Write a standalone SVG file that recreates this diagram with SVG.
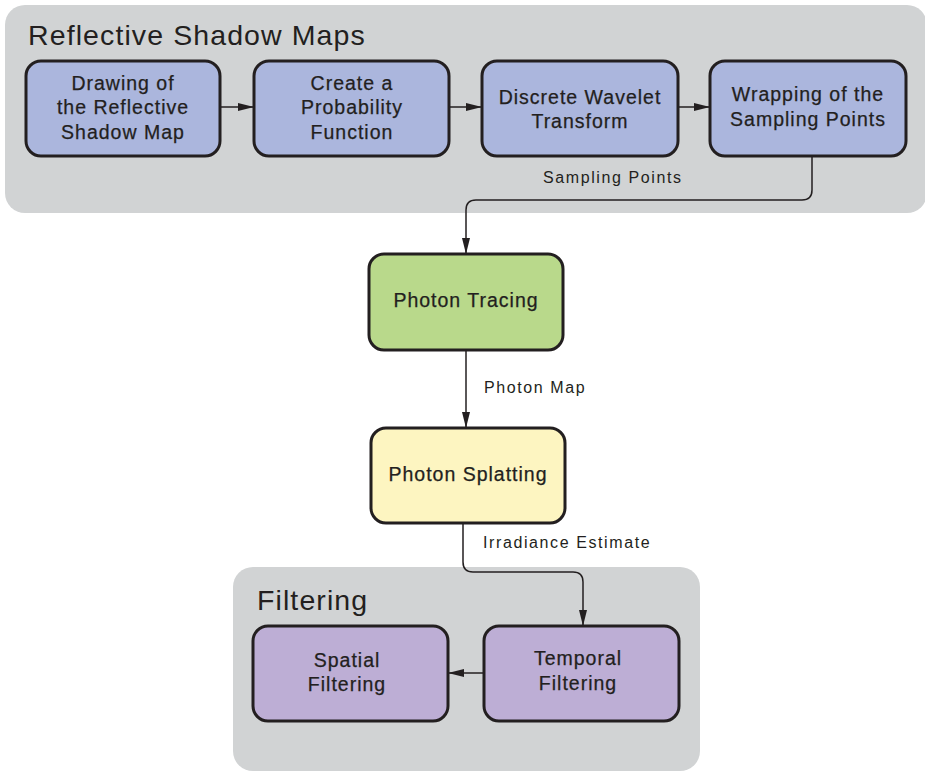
<svg xmlns="http://www.w3.org/2000/svg" width="925" height="773" viewBox="0 0 925 773">
<defs>
<marker id="ah" viewBox="0 0 16 10" refX="16" refY="5" markerWidth="16" markerHeight="10" markerUnits="userSpaceOnUse" orient="auto">
<path d="M0,1 L16,5 L0,9 Z" fill="#231f20"/>
</marker>
<style>
.grp{fill:#d1d3d4}
.title{font-family:"Liberation Sans",Arial,sans-serif;font-size:28.5px;fill:#231f20;letter-spacing:1.1px}
.box{stroke:#231f20;stroke-width:3}
.blue{fill:#abb6dd}
.green{fill:#b9d98b}
.yellow{fill:#fdf5c1}
.purple{fill:#bdaed5}
.t{font-family:"Liberation Sans",Arial,sans-serif;font-size:19.5px;fill:#231f20;text-anchor:middle;letter-spacing:1px;stroke:#231f20;stroke-width:0.25}
.lbl{font-family:"Liberation Sans",Arial,sans-serif;font-size:16px;fill:#231f20;letter-spacing:1.6px}
.conn{fill:none;stroke:#231f20;stroke-width:1.5}
</style>
</defs>
<g id="group-rsm">
<rect class="grp" x="5" y="5" width="922" height="208" rx="20"/>
<text class="title" x="28" y="45">Reflective Shadow Maps</text>
</g>
<g id="group-filtering">
<rect class="grp" x="233" y="567" width="467" height="204" rx="20"/>
<text class="title" x="257" y="610">Filtering</text>
</g>
<g id="connectors">
<line class="conn" x1="220" y1="107" x2="254" y2="107" marker-end="url(#ah)"/>
<line class="conn" x1="449" y1="107" x2="482" y2="107" marker-end="url(#ah)"/>
<line class="conn" x1="678" y1="107" x2="710" y2="107" marker-end="url(#ah)"/>
<path class="conn" d="M812,157 V190 Q812,200 802,200 H476 Q466,200 466,210 V254" marker-end="url(#ah)"/>
<line class="conn" x1="466" y1="350" x2="466" y2="428" marker-end="url(#ah)"/>
<path class="conn" d="M463,523 V562 Q463,572 473,572 H573 Q583,572 583,582 V626" marker-end="url(#ah)"/>
<line class="conn" x1="484" y1="673" x2="448" y2="673" marker-end="url(#ah)"/>
<text class="lbl" x="543" y="183">Sampling Points</text>
<text class="lbl" x="484" y="393">Photon Map</text>
<text class="lbl" x="483" y="548">Irradiance Estimate</text>
</g>
<g id="node-drawing">
<rect class="box blue" x="26" y="61" width="194" height="95" rx="15"/>
<text class="t" x="123" y="90">Drawing of</text>
<text class="t" x="123" y="114">the Reflective</text>
<text class="t" x="123" y="139">Shadow Map</text>
</g>
<g id="node-probability">
<rect class="box blue" x="254" y="61" width="195" height="95" rx="15"/>
<text class="t" x="352" y="90">Create a</text>
<text class="t" x="352" y="114">Probability</text>
<text class="t" x="352" y="139">Function</text>
</g>
<g id="node-dwt">
<rect class="box blue" x="482" y="61" width="196" height="95" rx="15"/>
<text class="t" x="580" y="104">Discrete Wavelet</text>
<text class="t" x="580" y="128">Transform</text>
</g>
<g id="node-wrapping">
<rect class="box blue" x="710" y="61" width="196" height="95" rx="15"/>
<text class="t" x="808" y="101">Wrapping of the</text>
<text class="t" x="808" y="126">Sampling Points</text>
</g>
<g id="node-photon-tracing">
<rect class="box green" x="369" y="254" width="194" height="96" rx="15"/>
<text class="t" x="466" y="307">Photon Tracing</text>
</g>
<g id="node-photon-splatting">
<rect class="box yellow" x="371" y="428" width="194" height="95" rx="15"/>
<text class="t" x="468" y="481">Photon Splatting</text>
</g>
<g id="node-spatial">
<rect class="box purple" x="253" y="626" width="195" height="95" rx="15"/>
<text class="t" x="347" y="667">Spatial</text>
<text class="t" x="347" y="691">Filtering</text>
</g>
<g id="node-temporal">
<rect class="box purple" x="484" y="626" width="195" height="95" rx="15"/>
<text class="t" x="578" y="665">Temporal</text>
<text class="t" x="578" y="690">Filtering</text>
</g>
</svg>
